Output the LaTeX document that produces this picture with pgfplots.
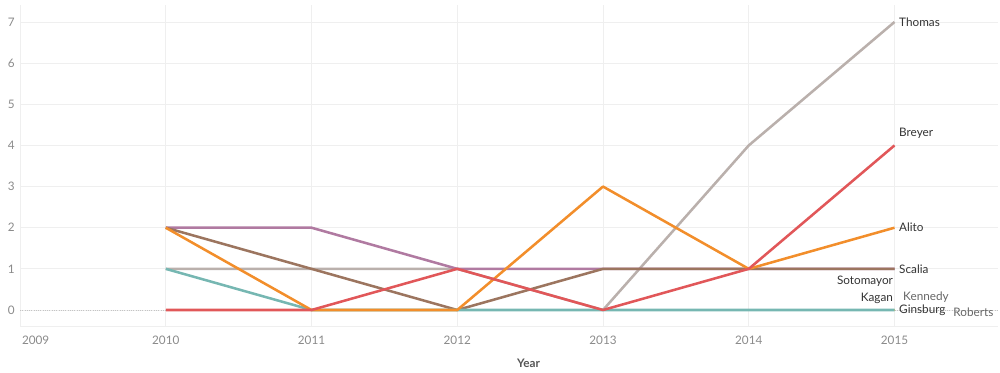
\documentclass[border=0pt]{standalone}
\usepackage{fontspec}
\setmainfont{Lato}
\usepackage{pgfplots}
\pgfplotsset{compat=1.18}
\definecolor{cThomas}{HTML}{BAB0AC}
\definecolor{cBreyer}{HTML}{E15759}
\definecolor{cAlito}{HTML}{F28E2B}
\definecolor{cScalia}{HTML}{9C755F}
\definecolor{cSoto}{HTML}{B07AA1}
\definecolor{cGins}{HTML}{76B7B2}
\definecolor{cBlue}{HTML}{4E79A7}
\definecolor{cGreen}{HTML}{59A14F}
\definecolor{cYellow}{HTML}{EDC948}
\definecolor{gridc}{HTML}{EFEFEF}
\definecolor{zeroc}{HTML}{C4C4C4}
\definecolor{tickc}{HTML}{8A8A8A}
\definecolor{labc}{HTML}{555555}
\definecolor{txt}{HTML}{333333}
\definecolor{txtl}{HTML}{666666}
\begin{document}
\begin{tikzpicture}
\begin{axis}[
  at={(15pt,34.5pt)}, anchor=south west,
  scale only axis, width=733.5pt, height=240.75pt,
  xmin=2009, xmax=2015.71, ymin=-0.389, ymax=7.413,
  xtick={2009,2010,2011,2012,2013,2014,2015},
  xticklabels={\makebox[0pt][l]{\hspace{1.5pt}2009},2010,2011,2012,2013,2014,2015},
  ytick={0,1,2,3,4,5,6,7},
  grid=major, major grid style={draw=gridc, line width=0.6pt},
  axis x line*=bottom, axis y line*=left,
  axis line style={draw=gridc, line width=0.6pt, -},
  tick style={draw=none},
  ticklabel style={font=\fontsize{8.8}{10}\selectfont, text=tickc},
  /pgf/number format/assume math mode=true,
  yticklabel style={inner sep=0pt, xshift=-3.75pt},
  xticklabel style={anchor=center, yshift=-10.5pt},
  xlabel={Year},
  xlabel style={at={(axis description cs:0.52,0)}, anchor=center, yshift=-27.75pt,
    font=\bfseries\fontsize{8.8}{10}\selectfont, text=labc},
  clip=false,
  every axis plot/.append style={line width=1.9pt, mark=none, line join=round},
]
\addplot[draw=zeroc, line width=0.5pt, dash pattern=on 0.5pt off 1.2pt] coordinates {(2009,0) (2015.71,0)};
% hidden series (zero throughout)
\addplot[draw=cBlue] coordinates {(2010,0) (2011,0) (2012,0) (2013,0) (2014,0) (2015,0)};
\addplot[draw=cGreen] coordinates {(2010,0) (2011,0) (2012,0) (2013,0) (2014,0) (2015,0)};
\addplot[draw=cYellow] coordinates {(2010,0) (2011,0) (2012,0) (2013,0) (2014,0) (2015,0)};
% Thomas
\addplot[draw=cThomas] coordinates {(2010,1) (2011,1) (2012,1) (2013,0) (2014,4) (2015,7)};
% Sotomayor
\addplot[draw=cSoto] coordinates {(2010,2) (2011,2) (2012,1) (2013,1) (2014,1) (2015,1)};
% Scalia
\addplot[draw=cScalia] coordinates {(2010,2) (2011,1) (2012,0) (2013,1) (2014,1) (2015,1)};
% Ginsburg
\addplot[draw=cGins] coordinates {(2010,1) (2011,0) (2012,0) (2013,0) (2014,0) (2015,0)};
% Alito
\addplot[draw=cAlito] coordinates {(2010,2) (2011,0) (2012,0) (2013,3) (2014,1) (2015,2)};
% Breyer
\addplot[draw=cBreyer] coordinates {(2010,0) (2011,0) (2012,1) (2013,0) (2014,1) (2015,4)};

\begin{scope}[every node/.style={font=\fontsize{8.8}{10}\selectfont, text=txt}]
\node[anchor=west] at (axis cs:2015,7) {Thomas};
\node[anchor=west, yshift=9pt] at (axis cs:2015,4) {Breyer};
\node[anchor=west] at (axis cs:2015,2) {Alito};
\node[anchor=west] at (axis cs:2015,1) {Scalia};
\node[anchor=east, inner sep=1pt, yshift=-9pt] at (axis cs:2015,1) {Sotomayor};
\node[anchor=east, inner sep=1pt, yshift=9pt] at (axis cs:2015,0) {Kagan};
\node[anchor=west, text=txtl, xshift=3pt, yshift=9.5pt] at (axis cs:2015,0) {Kennedy};
\node[anchor=west] at (axis cs:2015,0) {Ginsburg};
\node[anchor=west, text=txtl, xshift=40.7pt, yshift=-1.5pt] at (axis cs:2015,0) {Roberts};
\end{scope}
\end{axis}
\pgfresetboundingbox
\path (0,0) rectangle (750pt,279pt);
\end{tikzpicture}
\end{document}
